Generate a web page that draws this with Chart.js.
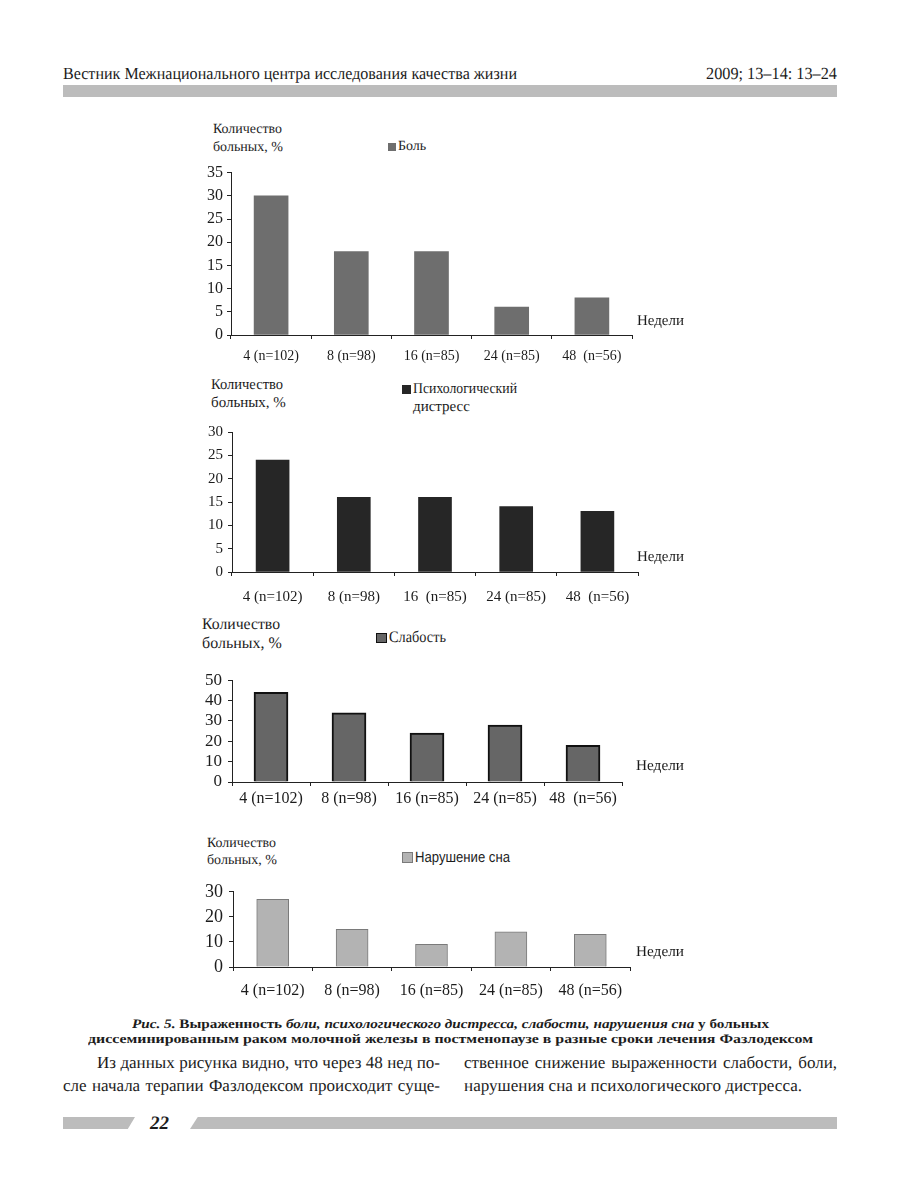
<!DOCTYPE html>
<html>
<head>
<meta charset="utf-8">
<script src="https://cdn.jsdelivr.net/npm/chart.js@4.4.1/dist/chart.umd.min.js"></script>
<style>
body { margin: 0; background: #fff; width: 900px; height: 1183px; position: relative; overflow: hidden; color: #1c1c1c;
       text-rendering: geometricPrecision; }
.t { position: absolute; white-space: pre; line-height: 1; transform-origin: 0 50%; font-family: 'Liberation Serif', serif; }
.j { position: absolute; white-space: nowrap; line-height: 1; text-align: justify; text-align-last: justify; font-family: 'Liberation Serif', serif; }
canvas { position: absolute; }
.band { position: absolute; background: #bcbcbc; }
.sw { position: absolute; box-sizing: border-box; }
</style>
</head>
<body>
<script>
// x labels, as printed under each panel
const WEEKS_PAIN = ["4 (n=102)", "8 (n=98)", "16 (n=85)", "24 (n=85)", "48  (n=56)"];
const WEEKS_DISTRESS = ["4 (n=102)", "8 (n=98)", "16  (n=85)", "24 (n=85)", "48  (n=56)"];
const WEEKS_WEAKNESS = ["4 (n=102)", "8 (n=98)", "16 (n=85)", "24 (n=85)", "48  (n=56)"];
const WEEKS_SLEEP = ["4 (n=102)", "8 (n=98)", "16 (n=85)", "24 (n=85)", "48 (n=56)"];

// % of patients
const PAIN = [30, 18, 18, 6, 8];
const DISTRESS = [24, 16, 16, 14, 13];
const WEAKNESS = [44, 34, 24, 28, 18];
const SLEEP = [27, 15, 9, 14, 13];

const Y_TITLE = ["Количество", "больных, %"];
const X_TITLE = "Недели";
const INK = '#1c1c1c';
const SERIF = "'Liberation Serif', serif";
const SANS = "'Liberation Sans', sans-serif";

function txt(s, x, y, size, o) {
    o = o || {};
    const d = document.createElement('div');
    d.className = 't';
    d.innerHTML = s;
    d.style.fontSize = size + 'px';
    d.style.fontFamily = o.family || SERIF;
    if (o.weight) d.style.fontWeight = o.weight;
    document.body.appendChild(d);
    let w = d.getBoundingClientRect().width;
    if (o.w) {
        d.style.transform = 'scaleX(' + (o.w / w) + ')';
        w = o.w;
    }
    let left = x;
    if (o.align === 'right') left = x - w;
    if (o.align === 'center') left = x - w / 2;
    d.style.left = left + 'px';
    d.style.top = (y - size / 2) + 'px';
    return d;
}

function line(s, x, y, w, size) {
    const d = document.createElement('div');
    d.className = 'j';
    d.textContent = s;
    d.style.left = x + 'px';
    d.style.top = (y - size / 2) + 'px';
    d.style.width = w + 'px';
    d.style.fontSize = size + 'px';
    document.body.appendChild(d);
}

function box(cls, x, y, w, h, css) {
    const d = document.createElement('div');
    d.className = cls;
    d.style.left = x + 'px';
    d.style.top = y + 'px';
    d.style.width = w + 'px';
    d.style.height = h + 'px';
    Object.assign(d.style, css || {});
    document.body.appendChild(d);
}

function barChart(o) {
    const left = 150, width = 560;
    const top = o.topY - 12;
    const height = o.zeroY - top + 40;
    const c = document.createElement('canvas');
    c.width = width; c.height = height;
    c.style.left = left + 'px'; c.style.top = top + 'px';
    c.style.width = width + 'px'; c.style.height = height + 'px';
    document.body.appendChild(c);
    new Chart(c.getContext('2d'), {
        type: 'bar',
        data: {
            labels: o.labels,
            datasets: [{
                data: o.values,
                backgroundColor: o.fill,
                borderColor: o.border || o.fill,
                borderWidth: o.bw || 0,
                barThickness: o.bar
            }]
        },
        options: {
            responsive: false,
            animation: false,
            layout: { padding: { top: 12, left: 0, right: left + width - o.axisRight, bottom: 0 } },
            plugins: { legend: { display: false }, tooltip: { enabled: false } },
            scales: {
                x: {
                    grid: { offset: true, drawOnChartArea: false, tickLength: 4, color: '#222' },
                    border: { color: '#222' },
                    ticks: { font: { family: SERIF, size: o.xFont }, color: INK,
                             padding: o.xPad, maxRotation: 0, autoSkip: false },
                    afterFit: s => { s.height = 40; }
                },
                y: {
                    min: 0, max: o.max,
                    grid: { drawOnChartArea: false, tickLength: 4, color: '#222' },
                    border: { color: '#222' },
                    ticks: { stepSize: o.step, autoSkip: false, font: { family: SERIF, size: o.yFont },
                             color: INK, padding: o.yPad },
                    afterFit: s => { s.width = o.axisLeft - left; }
                }
            }
        }
    });
}

// page header
txt("Вестник Межнационального центра исследования качества жизни", 63, 73, 17, { w: 454 });
txt("2009; 13–14: 13–24", 837, 73, 17, { w: 131, align: 'right' });
box('band', 63, 85, 774, 12);

// panel 1 - pain
barChart({ labels: WEEKS_PAIN, values: PAIN, fill: '#6e6e6e', bar: 34, max: 35, step: 5,
           axisLeft: 231, axisRight: 632, topY: 171, zeroY: 335, xFont: 14, yFont: 16, xPad: 9, yPad: 4 });
txt(Y_TITLE[0], 213, 130, 14, { w: 69 });
txt(Y_TITLE[1], 213, 148, 14);
box('sw', 388, 143, 8, 8, { background: '#6e6e6e' });
txt("Боль", 398, 147, 14);
txt(X_TITLE, 637, 321, 15, { w: 47 });

// panel 2 - psychological distress
barChart({ labels: WEEKS_DISTRESS, values: DISTRESS, fill: '#262626', bar: 33, max: 30, step: 5,
           axisLeft: 232, axisRight: 638, topY: 430, zeroY: 572, xFont: 15, yFont: 15, xPad: 12, yPad: 5 });
txt(Y_TITLE[0], 211, 385, 15, { w: 72 });
txt(Y_TITLE[1], 211, 403, 15);
box('sw', 402, 385, 9, 9, { background: '#262626' });
txt("Психологический", 413, 389, 15, { w: 104 });
txt("дистресс", 413, 407, 15);
txt(X_TITLE, 637, 557, 15, { w: 47 });

// panel 3 - weakness
barChart({ labels: WEEKS_WEAKNESS, values: WEAKNESS, fill: '#666666', border: '#111', bw: 2, bar: 34, max: 50, step: 10,
           axisLeft: 232, axisRight: 622, topY: 676, zeroY: 782, xFont: 16, yFont: 17, xPad: 3, yPad: 6 });
txt(Y_TITLE[0], 202, 625, 16, { w: 78 });
txt(Y_TITLE[1], 202, 644, 16);
box('sw', 376, 633, 11, 10, { background: '#666', border: '1.5px solid #111' });
txt("Слабость", 389, 638, 16, { w: 57 });
txt(X_TITLE, 636, 766, 15, { w: 48 });

// panel 4 - sleep disorder
barChart({ labels: WEEKS_SLEEP, values: SLEEP, fill: '#b3b3b3', border: '#7a7a7a', bw: 1, bar: 32, max: 30, step: 10,
           axisLeft: 233, axisRight: 630, topY: 887, zeroY: 967, xFont: 16, yFont: 18, xPad: 10, yPad: 6 });
txt(Y_TITLE[0], 207, 844, 14, { w: 69 });
txt(Y_TITLE[1], 207, 861, 14);
box('sw', 402, 852, 11, 11, { background: '#b3b3b3', border: '1px solid #7a7a7a' });
txt("Нарушение сна", 415, 857, 15, { family: SANS, w: 95 });
txt(X_TITLE, 636, 952, 15, { w: 48 });

// caption
txt("<i>Рис. 5.</i> Выраженность <i>боли, психологического дистресса, слабости, нарушения сна</i> у больных",
    450, 1023, 13, { weight: 'bold', w: 637, align: 'center' });
txt("диссеминированным раком молочной железы в постменопаузе в разные сроки лечения Фазлодексом",
    450, 1038, 13, { weight: 'bold', w: 725, align: 'center' });

// body text
line("Из данных рисунка видно, что через 48 нед по-", 97, 1062, 343, 17);
line("сле начала терапии Фазлодексом происходит суще-", 63, 1085, 377, 17);
line("ственное снижение выраженности слабости, боли,", 464, 1062, 373, 17);
txt("нарушения сна и психологического дистресса.", 464, 1085, 17, { w: 338 });

// footer
box('band', 63, 1117, 72, 12, { clipPath: 'polygon(0 0, 100% 0, 90% 100%, 0 100%)' });
txt("<b><i>22</i></b>", 150, 1123, 19);
box('band', 190, 1117, 647, 12, { clipPath: 'polygon(1.2% 0, 100% 0, 100% 100%, 0 100%)' });
</script>
</body>
</html>
